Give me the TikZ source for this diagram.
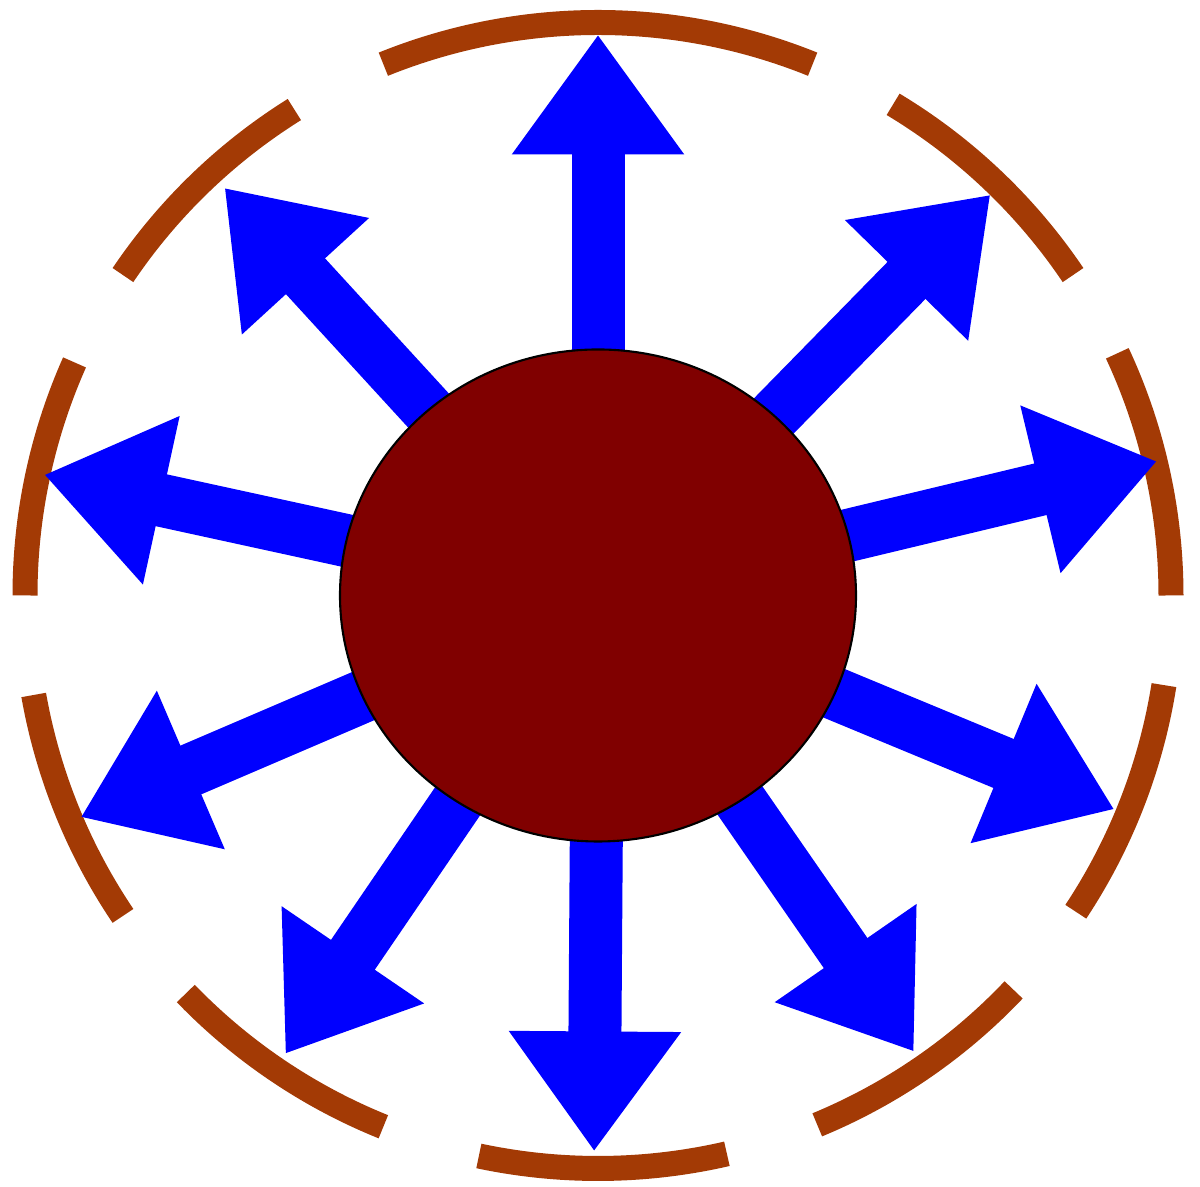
\documentclass[tikz,border=0pt]{standalone}
\usetikzlibrary{arrows.meta,shapes.geometric,calc}
\definecolor{rimbrown}{RGB}{163,58,5}
\definecolor{coremaroon}{RGB}{128,0,0}
\definecolor{rayblue}{RGB}{0,0,255}

\begin{document}
\begin{tikzpicture}[
  ring/.style={draw=rimbrown, line width=2.5mm},
  ray/.style={-{Triangle[length=12mm, width=16.4mm]}, draw=rayblue, line width=5.3mm},
  body/.style={ellipse, draw=black, line width=0.6pt, fill=coremaroon,
               minimum width=5.16cm, minimum height=4.92cm, inner sep=0pt},
]
\useasboundingbox (0,0) rectangle (12,11.87);
\coordinate (c) at (5.98,5.915);
% dashed rim
\foreach \s/\e in {0/25, 34/59, 68/112, 122/146, 156/180, 190/214, 224/248, 258/283, 292.5/316.5, 326.5/351}
  \draw[ring] ($(c)+(\s:5.73)$) arc[start angle=\s, end angle=\e, radius=5.73];
% rays
\foreach \a/\r [count=\i] in {90/5.61, 45.6/5.61, 13.5/5.75, -22.5/5.59, -55.3/5.55, -90.4/5.56, -124.3/5.55, -156.8/5.63, 167.7/5.67, 132.5/5.53}{
  \coordinate (t\i) at ($(c)+(\a:\r)$);
  \draw[ray] (c) -- (t\i);
}
% core
\node[body] (core) at (c) {};
\end{tikzpicture}
\end{document}
